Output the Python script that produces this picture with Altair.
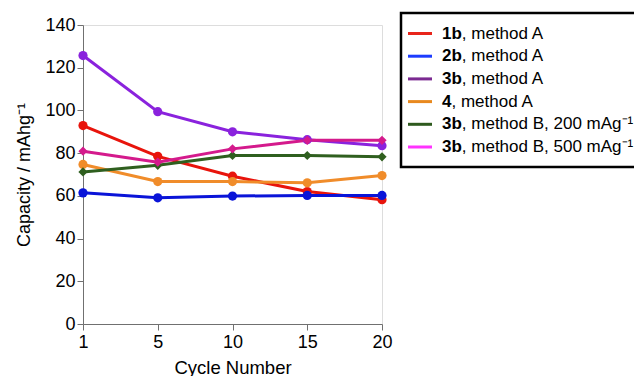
import altair as alt
import pandas as pd

cycles = ["1", "5", "10", "15", "20"]
series_names = ["1b A", "2b A", "3b A", "4 A", "3b B 200", "3b B 500"]
s_1b_A = [92.9, 78.5, 69.2, 62.0, 58.2]
s_2b_A = [61.4, 59.1, 59.9, 60.2, 60.2]
s_3b_A = [125.7, 99.4, 90.0, 86.3, 83.5]
s_4_A = [74.7, 66.7, 66.7, 66.1, 69.5]
s_3b_B200 = [71.2, 74.3, 78.9, 78.9, 78.3]
s_3b_B500 = [80.9, 75.8, 82.0, 86.0, 86.0]
all_values = [s_1b_A, s_2b_A, s_3b_A, s_4_A, s_3b_B200, s_3b_B500]

line_colors = ["#e8140c", "#0a14d8", "#8a22dd", "#f08c2a", "#2f5f1f", "#d41a8c"]
shapes = ["circle", "circle", "circle", "circle", "diamond", "diamond"]
marker_sizes = [85, 85, 85, 85, 130, 130]

legend_bold = ["1b", "2b", "3b", "4", "3b", "3b"]
legend_rest = [", method A", ", method A", ", method A", ", method A",
               ", method B, 200 mAg\u207b\u00b9", ", method B, 500 mAg\u207b\u00b9"]
legend_colors = ["#e8251b", "#1c3cff", "#7b2a91", "#e8891f", "#2e5a1e", "#ff33ff"]

y_ticks = [0, 20, 40, 60, 80, 100, 120, 140]

rows = []
for name, vals in zip(series_names, all_values):
    for c, v in zip(cycles, vals):
        rows.append({"cycle": c, "value": v, "series": name})
df = pd.DataFrame(rows)

FONT = "Liberation Sans"
W, H = 299, 299

x_enc = alt.X("cycle:O", sort=cycles, scale=alt.Scale(type="point", padding=0),
              axis=alt.Axis(title="Cycle Number", labelAngle=0, labelFontSize=18,
                            titleFontSize=18.5, titleFontWeight="normal", titlePadding=7,
                            domainColor="#707070", tickColor="#707070", tickSize=6,
                            labelColor="black", titleColor="black", labelPadding=3))
y_enc = alt.Y("value:Q", scale=alt.Scale(domain=[0, 140], nice=False),
              axis=alt.Axis(title="Capacity / mAhg\u207b\u00b9", values=y_ticks, grid=False,
                            labelFontSize=18, titleFontSize=18, titleFontWeight="normal",
                            domainColor="#707070", tickColor="#707070", tickSize=6,
                            labelColor="black", titleColor="black", titlePadding=11))
color_enc = alt.Color("series:N", scale=alt.Scale(domain=series_names, range=line_colors), legend=None)

lines = alt.Chart(df).mark_line(strokeWidth=3).encode(
    x=x_enc, y=y_enc, color=color_enc)
points = alt.Chart(df).mark_point(filled=True, opacity=1).encode(
    x=x_enc, y=y_enc, color=color_enc,
    shape=alt.Shape("series:N", scale=alt.Scale(domain=series_names, range=shapes), legend=None),
    size=alt.Size("series:N", scale=alt.Scale(domain=series_names, range=marker_sizes), legend=None))

# Manual legend box
dummy = pd.DataFrame({"a": [0]})
box = alt.Chart(dummy).mark_rect(fill="white", stroke="black", strokeWidth=2.5).encode(
    x=alt.value(318), x2=alt.value(570), y=alt.value(-12), y2=alt.value(142))

leg_layers = [box]
char_w = {"1": 0.556, "2": 0.556, "3": 0.556, "4": 0.556, "b": 0.611}
LFS = 17
for i in range(len(series_names)):
    yy = 8.5 + i * 22.7
    leg_layers.append(alt.Chart(dummy).mark_rule(strokeWidth=3, color=legend_colors[i]).encode(
        x=alt.value(325), x2=alt.value(349), y=alt.value(yy)))
    leg_layers.append(alt.Chart(dummy).mark_text(
        text=legend_bold[i], font=FONT, fontSize=LFS, fontWeight="bold", align="left",
        baseline="middle", color="black").encode(x=alt.value(359), y=alt.value(yy)))
    bw = sum(char_w[ch] for ch in legend_bold[i]) * LFS
    leg_layers.append(alt.Chart(dummy).mark_text(
        text=legend_rest[i], font=FONT, fontSize=LFS, align="left",
        baseline="middle", color="black").encode(x=alt.value(359 + bw), y=alt.value(yy)))

chart = alt.layer(lines, points, *leg_layers).properties(
    width=W, height=H,
    autosize=alt.AutoSizeParams(type="none"),
    padding={"left": 75, "top": 17, "right": 252, "bottom": 52},
).configure_view(stroke=None).configure(font=FONT)

chart.save("out.html", embed_options={"renderer": "svg", "actions": False})
